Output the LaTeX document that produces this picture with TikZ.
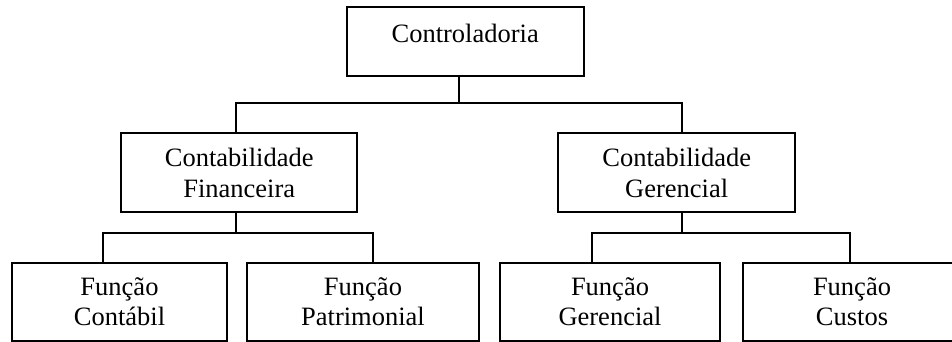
\documentclass[tikz,border=0pt]{standalone}
\usepackage{fontspec}
\setmainfont{Liberation Serif}
\begin{document}
\begin{tikzpicture}[x=1pt,y=-1pt,
  box/.style={draw=black,line width=1.8pt,rectangle,inner sep=0pt,align=center,
    font=\fontsize{26.5}{30.5}\selectfont},
  conn/.style={draw=black,line width=1.8pt}]
\useasboundingbox (0,0) rectangle (952,342);
\clip (0,0) rectangle (952,342);
\node[box,minimum width=237,minimum height=69,
  label={[font=\fontsize{26.5}{30.5}\selectfont,yshift=7.5pt]center:Controladoria}] (ctrl) at (465.2,41.4) {};
\node[box,minimum width=236.3,minimum height=78.7] (fin) at (239.2,172.7) {Contabilidade\\Financeira};
\node[box,minimum width=236.7,minimum height=78.7] (ger) at (676.7,172.7) {Contabilidade\\Gerencial};
\node[box,minimum width=215,minimum height=78.3] (fc) at (119.5,301.8) {Função\\Contábil};
\node[box,minimum width=232,minimum height=78.3] (fp) at (363,301.8) {Função\\Patrimonial};
\node[box,minimum width=220,minimum height=78.3] (fg) at (610,301.8) {Função\\Gerencial};
\node[box,minimum width=218,minimum height=78.3] (fcu) at (852,301.8) {Função\\Custos};
\coordinate (bus1) at (459.3,103.3);
\coordinate (bus2) at (236,233);
\coordinate (bus3) at (681.7,233);
\draw[conn] ([xshift=-5.9pt]ctrl.south) -- (bus1);
\draw[conn] ([xshift=-3.2pt]fin.north) |- (bus1) -| ([xshift=5pt]ger.north);
\draw[conn] ([xshift=-3.2pt]fin.south) -- (bus2);
\draw[conn] ([xshift=-16.8pt]fc.north) |- (bus2) -| ([xshift=9.7pt]fp.north);
\draw[conn] ([xshift=5pt]ger.south) -- (bus3);
\draw[conn] ([xshift=-18.3pt]fg.north) |- (bus3) -| ([xshift=-1.7pt]fcu.north);
\end{tikzpicture}
\end{document}
